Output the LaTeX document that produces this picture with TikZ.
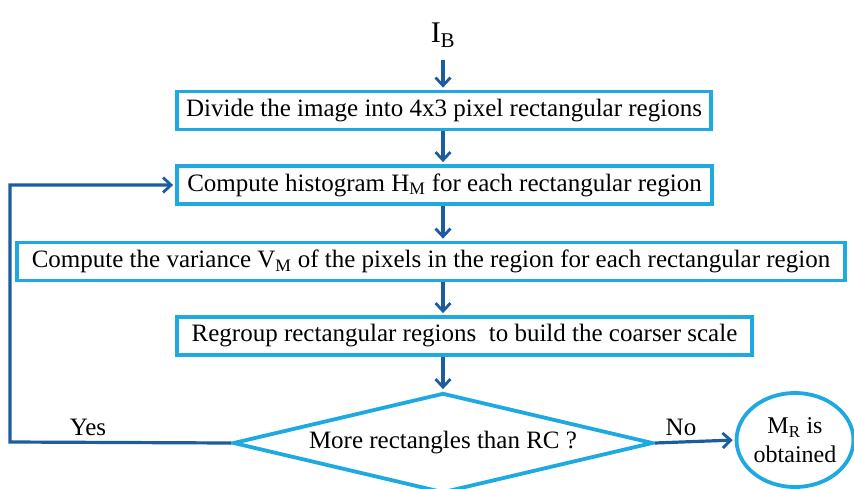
\documentclass[tikz,border=0pt]{standalone}
\usepackage{fontspec}
\setmainfont{Liberation Serif}
\usetikzlibrary{arrows.meta,shapes.geometric}
\definecolor{boxblue}{HTML}{1FA9E1}
\definecolor{arrblue}{HTML}{1D5C9E}
\newcommand\sbs[1]{\textsubscript{#1}}
\begin{document}
\begin{tikzpicture}[x=1pt,y=-1pt,
  txt/.style={font=\fontsize{25}{27}\selectfont, text=black},
  stepbox/.style={txt, draw=boxblue, line width=3.8pt, minimum height=38pt, inner sep=0pt},
  arr/.style={draw=arrblue, line width=3.2pt, -{Straight Barb[length=8pt,width=15pt,line width=2.8pt]}, shorten >=2pt}]
\useasboundingbox (0,0) rectangle (854,488);
\node[txt, font=\fontsize{30}{32}\selectfont] (ib) at (443,35) {I\sbs{B}};
\node[stepbox, minimum width=534pt] (b1) at (444,110.5) {Divide the image into 4x3 pixel rectangular regions};
\node[stepbox, minimum width=535pt] (b2) at (444.5,185) {Compute histogram H\sbs{M} for each rectangular region};
\node[stepbox, minimum width=828pt] (b3) at (431,261.5) {Compute the variance V\sbs{M} of the pixels in the region for each rectangular region};
\node[stepbox, minimum width=575pt] (b4) at (464.5,336) {Regroup rectangular regions\ \ to build the coarser scale};
\node[txt, draw=boxblue, line width=3.8pt, diamond, aspect=4.3, inner sep=0pt, minimum width=420pt, minimum height=100pt] (dia) at (443,443) {More rectangles than RC ?};
\node[txt, font=\fontsize{24}{29}\selectfont, draw=boxblue, line width=3.8pt, ellipse, inner sep=0pt, minimum width=114pt, minimum height=94pt, align=center] (mr) at (795,440) {M\sbs{R} is\\obtained};
\node[txt] (yes) at (88,427) {Yes};
\node[txt] (no) at (681,427) {No};
\coordinate (ibs) at (443,60);
\coordinate (lp) at (10,442);
\draw[arr] (ibs) -- (b1.north -| ibs);
\draw[arr] (b1.south -| ibs) -- (b2.north -| ibs);
\draw[arr] (b2.south -| ibs) -- (b3.north -| ibs);
\draw[arr] (b3.south -| ibs) -- (b4.north -| ibs);
\draw[arr] (b4.south -| ibs) -- (dia.north);
\draw[arr] (dia.west) -- (lp) |- (b2.west);
\draw[arr] (dia.east) -- (mr.west);
\end{tikzpicture}
\end{document}
